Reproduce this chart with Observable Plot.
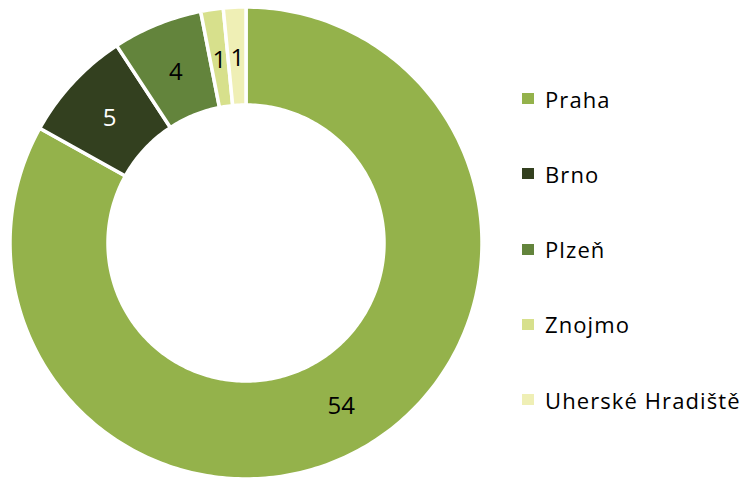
<!DOCTYPE html>
<html><head><meta charset="utf-8">
<script src="https://cdn.jsdelivr.net/npm/d3@7"></script>
<script src="https://cdn.jsdelivr.net/npm/@observablehq/plot@0.6"></script>
<style>
html,body{margin:0;padding:0;background:#fff;}
#wrap{position:relative;width:745px;height:479px;font-family:"Open Sans",sans-serif;}
#legend{position:absolute;left:522px;top:61px;display:flex;flex-direction:column;}
.item{height:75.25px;display:flex;align-items:center;font-size:22px;letter-spacing:1.1px;color:#000;white-space:nowrap;}
.sw{width:12px;height:11px;margin-right:11px;flex:none;}
</style></head>
<body><div id="wrap"><div id="chart"></div><div id="legend"></div></div>
<script>
const categories = ["Praha","Brno","Plzeň","Znojmo","Uherské Hradiště"];
const values = [54,5,4,1,1];
const colors = ["#94b24b","#33401f","#63843c","#d7e08c","#efefb5"];
const labelColors = ["#000","#fff","#000","#000","#000"];

const innerRatio = 138/236;
const pie = d3.pie().sort(null).value(d => d.value);
const arcs = pie(categories.map((c,i)=>({category:c, value:values[i]})));

// annular sector geometry (sampled along the arc)
const pts = [];
arcs.forEach(a => {
  const n = Math.max(4, Math.ceil((a.endAngle - a.startAngle) * 60));
  for (let k = 0; k <= n; k++) {
    const t = a.startAngle + (a.endAngle - a.startAngle) * k / n;
    pts.push({category:a.data.category, x1:Math.sin(t), y1:Math.cos(t), x2:innerRatio*Math.sin(t), y2:innerRatio*Math.cos(t)});
  }
});
const rm = (1 + innerRatio) / 2;
const labels = arcs.map((a,i) => {
  const t = (a.startAngle + a.endAngle) / 2;
  return {category:a.data.category, value:a.data.value, x:rm*Math.sin(t), y:rm*Math.cos(t), c:labelColors[i]};
});

const W = 500, H = 479, R = 236, cx = 246, cy = 243;
const chart = Plot.plot({
  width: W, height: H, margin: 0,
  x: {domain: [-cx/R, (W-cx)/R], axis: null},
  y: {domain: [-(H-cy)/R, cy/R], axis: null},
  color: {domain: categories, range: colors},
  style: {fontFamily: "'Open Sans', sans-serif"},
  marks: [
    Plot.area(pts, {x1:"x1", y1:"y1", x2:"x2", y2:"y2", fill:"category", z:"category", stroke:"white", strokeWidth:3.5}),
    Plot.text(labels, {x:"x", y:"y", text:d=>String(d.value), fill:d=>d.c, fontSize:24, dy:2})
  ]
});
document.getElementById("chart").appendChild(chart);

const lg = document.getElementById("legend");
categories.forEach((c,i)=>{
  const it = document.createElement("div"); it.className="item";
  const sw = document.createElement("div"); sw.className="sw"; sw.style.background = colors[i];
  const tx = document.createElement("span"); tx.textContent = c;
  it.appendChild(sw); it.appendChild(tx); lg.appendChild(it);
});
</script></body></html>
